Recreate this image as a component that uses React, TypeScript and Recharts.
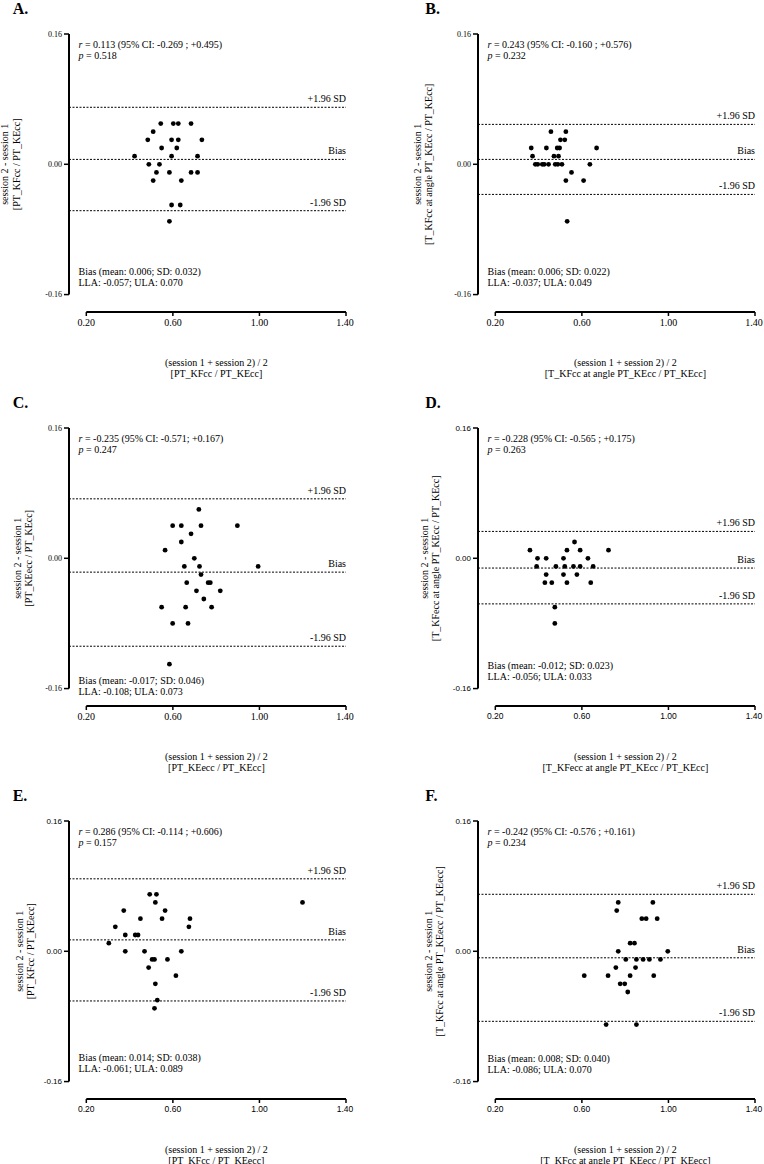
import React from 'react';
import { ScatterChart, Scatter, XAxis, YAxis, ReferenceLine } from 'recharts';

// shared axis setup (Prism style: y axis and x axis drawn apart)
const xTicks = [0.2, 0.6, 1.0, 1.4];
const yTicks = [-0.16, 0, 0.16];
const X_MIN = 0.12;
const Y_MIN = -0.1814;
const X_DOMAIN = [X_MIN, 1.4];
const Y_DOMAIN = [Y_MIN, 0.16];

// A. PT_KFcc / PT_KEcc
const aMean = [0.423, 0.484, 0.509, 0.544, 0.602, 0.625, 0.684, 0.548, 0.594, 0.625, 0.734, 0.618, 0.594, 0.714, 0.489, 0.538, 0.524, 0.584, 0.684, 0.714, 0.509, 0.639, 0.594, 0.634, 0.584];
const aDiff = [0.01, 0.03, 0.04, 0.05, 0.05, 0.05, 0.05, 0.02, 0.03, 0.03, 0.03, 0.02, 0.01, 0.01, 0, 0, -0.01, -0.01, -0.01, -0.01, -0.02, -0.02, -0.05, -0.05, -0.07];
const aLimits = [0.006, -0.057, 0.07];

// B. T_KFcc at angle PT_KEcc / PT_KEcc
const bMean = [0.366, 0.372, 0.385, 0.396, 0.417, 0.426, 0.446, 0.436, 0.457, 0.471, 0.477, 0.492, 0.486, 0.497, 0.489, 0.508, 0.501, 0.521, 0.526, 0.552, 0.526, 0.532, 0.608, 0.637, 0.668];
const bDiff = [0.02, 0.01, 0, 0, 0, 0, 0, 0.02, 0.04, 0.01, 0, 0.01, 0.02, 0.02, 0, 0, 0.03, 0.03, 0.04, -0.01, -0.02, -0.07, -0.02, 0, 0.02];
const bLimits = [0.006, -0.037, 0.049];

// C. PT_KEecc / PT_KEcc
const cMean = [0.72, 0.599, 0.639, 0.73, 0.898, 0.684, 0.639, 0.564, 0.699, 0.653, 0.723, 0.994, 0.73, 0.664, 0.763, 0.773, 0.709, 0.819, 0.743, 0.548, 0.659, 0.779, 0.599, 0.67, 0.584];
const cDiff = [0.06, 0.04, 0.04, 0.04, 0.04, 0.03, 0.02, 0.01, 0, -0.01, -0.01, -0.01, -0.02, -0.03, -0.03, -0.03, -0.04, -0.04, -0.05, -0.06, -0.06, -0.06, -0.08, -0.08, -0.13];
const cLimits = [-0.017, -0.108, 0.073];

// D. T_KFecc at angle PT_KEcc / PT_KEcc
const dMean = [0.36, 0.395, 0.435, 0.391, 0.435, 0.429, 0.461, 0.48, 0.515, 0.531, 0.521, 0.515, 0.531, 0.566, 0.561, 0.577, 0.592, 0.592, 0.628, 0.652, 0.641, 0.723, 0.475, 0.475];
const dDiff = [0.01, 0, 0, -0.01, -0.02, -0.03, -0.03, -0.01, 0, 0.01, -0.01, -0.02, -0.03, 0.02, -0.01, -0.02, 0.01, -0.01, 0, -0.01, -0.03, 0.01, -0.06, -0.08];
const dLimits = [-0.012, -0.056, 0.033];

// E. PT_KFcc / PT_KEecc
const eMean = [0.304, 0.334, 0.373, 0.38, 0.38, 0.426, 0.439, 0.45, 0.469, 0.493, 0.524, 0.519, 0.564, 0.55, 0.674, 0.679, 0.504, 0.515, 0.575, 0.488, 0.639, 0.614, 0.519, 0.528, 0.515, 1.199];
const eDiff = [0.01, 0.03, 0.05, 0.02, 0, 0.02, 0.02, 0.04, 0, 0.07, 0.07, 0.06, 0.05, 0.04, 0.03, 0.04, -0.01, -0.01, -0.01, -0.02, 0, -0.03, -0.04, -0.06, -0.07, 0.06];
const eLimits = [0.014, -0.061, 0.089];

// F. T_KFcc at angle PT_KEecc / PT_KEecc
const fMean = [0.611, 0.721, 0.712, 0.852, 0.768, 0.761, 0.768, 0.757, 0.777, 0.798, 0.812, 0.803, 0.823, 0.843, 0.823, 0.848, 0.852, 0.877, 0.897, 0.883, 0.912, 0.928, 0.948, 0.932, 0.963, 0.997];
const fDiff = [-0.03, -0.03, -0.09, -0.09, 0.06, 0.05, 0, -0.02, -0.04, -0.04, -0.05, -0.01, 0.01, 0.01, -0.03, -0.02, -0.01, 0.04, 0.04, -0.01, -0.01, 0.06, 0.04, -0.03, -0.01, 0];
const fLimits = [-0.008, -0.086, 0.07];

const serif = '"Liberation Serif", "Times New Roman", serif';
const sans = '"Liberation Sans", Arial, sans-serif';

const panels = [
  { id: 'A.', col: 0, row: 0, mean: aMean, diff: aDiff, lim: aLimits, sansTicks: false,
    r: '0.113 (95% CI: -0.269 ; +0.495)', p: '0.518', bias: 'Bias (mean: 0.006; SD: 0.032)', la: 'LLA: -0.057; ULA: 0.070',
    unit: '[PT_KFcc / PT_KEcc]', yt: 8.5, stat: -20 },
  { id: 'B.', col: 1, row: 0, mean: bMean, diff: bDiff, lim: bLimits, sansTicks: false,
    r: '0.243 (95% CI: -0.160 ; +0.576)', p: '0.232', bias: 'Bias (mean: 0.006; SD: 0.022)', la: 'LLA: -0.037; ULA: 0.049',
    unit: '[T_KFcc at angle PT_KEcc / PT_KEcc]', yt: 421, stat: -20 },
  { id: 'C.', col: 0, row: 1, mean: cMean, diff: cDiff, lim: cLimits, sansTicks: false,
    r: '-0.235 (95% CI: -0.571; +0.167)', p: '0.247', bias: 'Bias (mean: -0.017; SD: 0.046)', la: 'LLA: -0.108; ULA: 0.073',
    unit: '[PT_KEecc / PT_KEcc]', yt: 21, stat: -5 },
  { id: 'D.', col: 1, row: 1, mean: dMean, diff: dDiff, lim: dLimits, sansTicks: true,
    r: '-0.228 (95% CI: -0.565 ; +0.175)', p: '0.263', bias: 'Bias (mean: -0.012; SD: 0.023)', la: 'LLA: -0.056; ULA: 0.033',
    unit: '[T_KFecc at angle PT_KEcc / PT_KEcc]', yt: 428, stat: -19.5 },
  { id: 'E.', col: 0, row: 2, mean: eMean, diff: eDiff, lim: eLimits, sansTicks: true,
    r: '0.286 (95% CI: -0.114 ; +0.606)', p: '0.157', bias: 'Bias (mean: 0.014; SD: 0.038)', la: 'LLA: -0.061; ULA: 0.089',
    unit: '[PT_KFcc / PT_KEecc]', yt: 23, stat: -20.5 },
  { id: 'F.', col: 1, row: 2, mean: fMean, diff: fDiff, lim: fLimits, sansTicks: true,
    r: '-0.242 (95% CI: -0.576 ; +0.161)', p: '0.234', bias: 'Bias (mean: 0.008; SD: 0.040)', la: 'LLA: -0.086; ULA: 0.070',
    unit: '[T_KFcc at angle PT_KEecc / PT_KEecc]', yt: 432, stat: -20 },
];

const colX = [69, 478];
const rowY = [34, 428, 821];
const letterX = [12.7, 425.3];
const PLOT_W = 277;
const PLOT_H = 278;
const CHART_W = 60 + PLOT_W + 9;
const CHART_H = 10 + PLOT_H + 30;
const MARGIN = { top: 10, right: 9, bottom: 0, left: 0 };
const TICK_LINE = { stroke: '#000', strokeWidth: 1.5 };

const Dot = (props: any) => <circle cx={props.cx} cy={props.cy} r={2.4} fill="#000" />;

const lineTag = (text: string, vb: any) => (
  <text x={vb.x + vb.width} y={vb.y - 5} textAnchor="end" fontFamily={serif} fontSize={10} fill="#000">
    {text}
  </text>
);
const UlaTag = (props: any) => lineTag('+1.96 SD', props.viewBox);
const BiasTag = (props: any) => lineTag('Bias', props.viewBox);
const LlaTag = (props: any) => lineTag('-1.96 SD', props.viewBox);

const fmt = (v: any) => Number(v).toFixed(2);
const XTickSerif = (props: any) => (
  <text x={props.x} y={props.y + 7.5} textAnchor="middle" fontFamily={serif} fontSize={10} fill="#000">{fmt(props.payload.value)}</text>
);
const XTickSans = (props: any) => (
  <text x={props.x} y={props.y + 6.5} textAnchor="middle" fontFamily={sans} fontSize={8.5} fill="#000">{fmt(props.payload.value)}</text>
);
const YTickSerif = (props: any) => (
  <text x={props.x} y={props.y + 2.8} textAnchor="end" fontFamily={serif} fontSize={8} fill="#000">{fmt(props.payload.value)}</text>
);
const YTickSans = (props: any) => (
  <text x={props.x} y={props.y + 2.8} textAnchor="end" fontFamily={sans} fontSize={8} fill="#000">{fmt(props.payload.value)}</text>
);

function Panel({ p }: { p: any }) {
  const data = p.mean.map((m: number, i: number) => ({ mean: m, diff: p.diff[i] }));
  return (
    <ScatterChart width={CHART_W} height={CHART_H} margin={MARGIN}>
      <XAxis type="number" dataKey="mean" domain={X_DOMAIN} ticks={xTicks} allowDataOverflow axisLine={false}
        tickLine={TICK_LINE} tickSize={4} height={30} tick={p.sansTicks ? XTickSans : XTickSerif} />
      <YAxis type="number" dataKey="diff" domain={Y_DOMAIN} ticks={yTicks} allowDataOverflow axisLine={false}
        tickLine={TICK_LINE} tickSize={5} width={60} tick={p.sansTicks ? YTickSans : YTickSerif} />
      <ReferenceLine ifOverflow="visible" segment={[{ x: X_MIN, y: -0.16 }, { x: X_MIN, y: 0.16 }]} stroke="#000" strokeWidth={2} />
      <ReferenceLine ifOverflow="visible" segment={[{ x: 0.2, y: Y_MIN }, { x: 1.4, y: Y_MIN }]} stroke="#000" strokeWidth={2} />
      <ReferenceLine y={p.lim[2]} stroke="#000" strokeWidth={1} strokeDasharray="2 1.5" label={UlaTag} />
      <ReferenceLine y={p.lim[0]} stroke="#000" strokeWidth={1} strokeDasharray="2 1.5" label={BiasTag} />
      <ReferenceLine y={p.lim[1]} stroke="#000" strokeWidth={1} strokeDasharray="2 1.5" label={LlaTag} />
      <Scatter data={data} fill="#000" shape={Dot} isAnimationActive={false} />
    </ScatterChart>
  );
}

function PanelText({ p }: { p: any }) {
  const ax = colX[p.col];
  const top = rowY[p.row];
  const zeroY = top + 130.3;
  const lowY = top + 260.6;
  const xAxisY = top + PLOT_H;
  const midX = ax + 147.4;
  return (
    <g fontFamily={serif} fill="#000">
      <text x={letterX[p.col]} y={top - 19.7} fontSize={16} fontWeight="bold">{p.id}</text>
      <text x={ax + 9.5} y={top + 13.5} fontSize={10}>
        <tspan fontStyle="italic">r</tspan> = {p.r}
      </text>
      <text x={ax + 9.5} y={top + 24.5} fontSize={10}>
        <tspan fontStyle="italic">p</tspan> = {p.p}
      </text>
      <text x={ax + 9.5} y={lowY + p.stat} fontSize={10}>{p.bias}</text>
      <text x={ax + 9.5} y={lowY + p.stat + 11} fontSize={10}>{p.la}</text>
      <text x={midX} y={xAxisY + 54} fontSize={10} textAnchor="middle">(session 1 + session 2) / 2</text>
      <text x={midX} y={xAxisY + 64.5} fontSize={10} textAnchor="middle">{p.unit}</text>
      <text x={p.yt} y={zeroY} fontSize={10} textAnchor="middle" transform={`rotate(-90 ${p.yt} ${zeroY})`}>
        session 2 - session 1
      </text>
      <text x={p.yt + 11.5} y={zeroY} fontSize={10} textAnchor="middle" transform={`rotate(-90 ${p.yt + 11.5} ${zeroY})`}>
        {p.unit}
      </text>
    </g>
  );
}

export default function App() {
  const rows = [0, 1, 2];
  return (
    <div style={{ position: 'relative', width: 764, height: 1164, overflow: 'hidden', display: 'flex', flexDirection: 'column' }}>
      <style>{'body { margin: 0; }'}</style>
      <svg width={764} height={1164} style={{ position: 'absolute', left: 0, top: 0 }}>
        {panels.map((p) => (
          <PanelText key={p.id} p={p} />
        ))}
      </svg>
      {rows.map((r) => {
        const prevBottom = r === 0 ? 0 : rowY[r - 1] - 10 + CHART_H;
        return (
          <div key={r} style={{ display: 'flex', marginTop: rowY[r] - 10 - prevBottom, height: CHART_H, flex: 'none' }}>
            {panels
              .filter((p) => p.row === r)
              .map((p) => (
                <div key={p.id} style={{ marginLeft: p.col === 0 ? colX[0] - 60 : colX[1] - colX[0] - CHART_W, width: CHART_W, flex: 'none' }}>
                  <Panel p={p} />
                </div>
              ))}
          </div>
        );
      })}
    </div>
  );
}
